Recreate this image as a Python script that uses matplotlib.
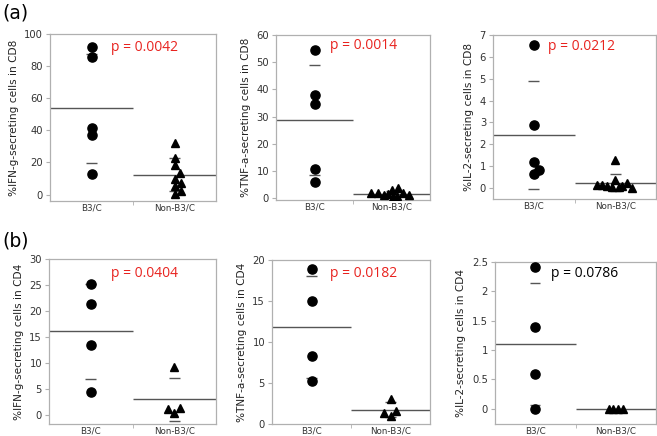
import numpy as np
import matplotlib
matplotlib.use("Agg")
import matplotlib.pyplot as plt

# ---- data ----
groups = ["B3/C", "Non-B3/C"]

ifn_cd8_b3c = [92.1, 85.5, 41.4, 37.1, 12.8]
ifn_cd8_non = [32.3, 22.8, 18.5, 13.5, 9.7, 7.3, 5.2, 2.0, 0.4]
tnf_cd8_b3c = [54.5, 38.1, 34.7, 10.8, 5.9]
tnf_cd8_non = [1.8, 1.7, 1.0, 1.5, 2.8, 0.5, 0.6, 3.7, 2.0, 1.2]
il2_cd8_b3c = [6.56, 2.88, 1.2, 0.63, 0.82]
il2_cd8_non = [1.3, 0.13, 0.13, 0.1, 0.05, 0.35, 0.05, 0.08, 0.22, 0.02]

ifn_cd4_b3c = [25.2, 21.3, 13.5, 4.5]
ifn_cd4_non = [9.2, 1.2, 0.4, 1.4]
tnf_cd4_b3c = [18.9, 15.0, 8.3, 5.2]
tnf_cd4_non = [3.0, 1.3, 0.9, 1.5]
il2_cd4_b3c = [2.41, 1.40, 0.60, 0.0]
il2_cd4_non = [0.0, 0.0, 0.0, 0.0]

p_values = ["p = 0.0042", "p = 0.0014", "p = 0.0212",
            "p = 0.0404", "p = 0.0182", "p = 0.0786"]
ylabels = ["%IFN-g-secreting cells in CD8", "%TNF-a-secreting cells in CD8",
           "%IL-2-secreting cells in CD8", "%IFN-g-secreting cells in CD4",
           "%TNF-a-secreting cells in CD4", "%IL-2-secreting cells in CD4"]

# horizontal jitter of the points (layout only)
jit_a1 = ([0, 0, 0, 0, 0], [0, 0, 0, 0.07, 0, 0.08, 0, 0.08, 0])
jit_a2 = ([0] * 5, [-0.26, -0.18, -0.10, -0.04, 0.0, 0.02, 0.07, 0.09, 0.15, 0.23])
jit_a3 = ([0, 0, 0, 0, 0.07], [0, -0.22, -0.16, -0.10, -0.04, 0, 0.04, 0.08, 0.14, 0.20])
jit_b1 = ([0] * 4, [0, -0.07, 0, 0.07])
jit_b2 = ([0] * 4, [0, -0.08, 0, 0.07])
jit_b3 = ([0] * 4, [-0.09, -0.03, 0.03, 0.09])

W, H = 657, 436
fig = plt.figure(figsize=(W / 100, H / 100), dpi=100)

def box(l, r, t, b):
    return [l / W, 1 - b / H, (r - l) / W, (b - t) / H]

panels = [
    (box(50, 216, 34, 201), ifn_cd8_b3c, ifn_cd8_non, jit_a1, (-4, 100), [0, 20, 40, 60, 80, 100], (0.37, 0.92), "#e8231f"),
    (box(276, 430, 35, 200), tnf_cd8_b3c, tnf_cd8_non, jit_a2, (-0.7, 60), [0, 10, 20, 30, 40, 50, 60], (0.35, 0.935), "#e8231f"),
    (box(493, 656, 35, 199), il2_cd8_b3c, il2_cd8_non, jit_a3, (-0.5, 7), [0, 1, 2, 3, 4, 5, 6, 7], (0.335, 0.93), "#e8231f"),
    (box(49, 216, 259, 424), ifn_cd4_b3c, ifn_cd4_non, jit_b1, (-1.7, 30), [0, 5, 10, 15, 20, 25, 30], (0.37, 0.91), "#e8231f"),
    (box(272, 430, 260, 424), tnf_cd4_b3c, tnf_cd4_non, jit_b2, (-0.05, 20), [0, 5, 10, 15, 20], (0.37, 0.92), "#e8231f"),
    (box(495, 656, 262, 424), il2_cd4_b3c, il2_cd4_non, jit_b3, (-0.26, 2.5), [0, 0.5, 1, 1.5, 2, 2.5], (0.35, 0.93), "black"),
]

line_col = "#555555"
spine_col = "#b0b0b0"

for i, (pos, g1, g2, jit, ylim, yt, ppos, pcol) in enumerate(panels):
    ax = fig.add_axes(pos)
    for k, (vals, marker, ms) in enumerate([(g1, "o", 6.6), (g2, "^", 6.0)]):
        vals = np.array(vals)
        xc = 0.5 + k
        ax.plot(xc + np.array(jit[k]), vals, ls="none", marker=marker,
                ms=ms, color="black", zorder=3)
        m = vals.mean()
        sd = vals.std(ddof=1)
        ax.hlines(m, k, k + 1, color=line_col, lw=1.0, zorder=2)
        ax.hlines([m - sd, m + sd], xc - 0.065, xc + 0.065, color=line_col, lw=1.0, zorder=2)
    ax.set_xlim(0, 2)
    ax.set_ylim(*ylim)
    ax.set_yticks(yt)
    ax.set_yticklabels([("%g" % v) for v in yt])
    ax.set_xticks([0.5, 1.5])
    ax.set_xticklabels(groups, fontsize=6.3, color="#333333")
    ax.set_xticks([1.0], minor=True)
    ax.tick_params(axis="x", which="major", length=0, pad=1.5)
    ax.tick_params(axis="x", which="minor", length=3, color=spine_col)
    ax.tick_params(axis="y", which="major", length=3, color=spine_col, labelsize=7.2,
                   labelcolor="#333333", pad=2)
    for s in ax.spines.values():
        s.set_color(spine_col)
        s.set_linewidth(0.9)
    ax.set_ylabel(ylabels[i], fontsize=7.6, color="#222222", labelpad=4)
    ax.text(ppos[0], ppos[1], p_values[i], transform=ax.transAxes, color=pcol,
            fontsize=10, family="Open Sans", va="center", ha="left")

fig.text(2 / W, 1 - 13 / H, "(a)", fontsize=13.5, va="center", ha="left")
fig.text(2 / W, 1 - 241 / H, "(b)", fontsize=13.5, va="center", ha="left")

fig.savefig("out.png", dpi=100)
